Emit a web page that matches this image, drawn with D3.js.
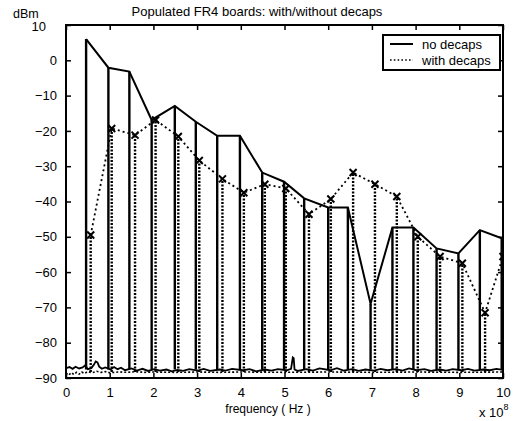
<!DOCTYPE html>
<html><head><meta charset="utf-8">
<script src="https://cdn.jsdelivr.net/npm/d3@7"></script>
<style>body{margin:0;background:#fff}text{font-family:"Liberation Sans",Arial,sans-serif;fill:#000}</style>
</head><body>
<svg id="c" width="513" height="421"></svg>
<script>
// ---- data ----
const xTicks = [0,1,2,3,4,5,6,7,8,9,10];
const yTicks = [-90,-80,-70,-60,-50,-40,-30,-20,-10,0,10];
// no decaps: harmonic peaks (x in 1e8 Hz, dBm)
const noDecapsX = [0.46,0.97,1.45,1.96,2.49,2.97,3.46,3.98,4.49,4.99,5.45,6.0,6.45,6.97,7.47,7.95,8.48,8.98,9.47,9.97];
const noDecapsY = [6,-2.1,-3.2,-16.9,-12.9,-17.4,-21.4,-21.4,-31.8,-34.4,-39.1,-41.7,-41.7,-69,-47.4,-47.4,-53.3,-54.7,-48.1,-50.4];
// with decaps: harmonic peaks
const decapsX = [0.565,1.046,1.58,2.05,2.57,3.05,3.58,4.07,4.55,5.03,5.56,6.06,6.57,7.07,7.57,8.05,8.56,9.07,9.59,10.0];
const decapsY = [-49.5,-19.3,-21.2,-16.9,-21.6,-28.4,-33.6,-37.5,-35.1,-36.3,-43.6,-39.3,-31.8,-35.1,-38.6,-50.0,-55.6,-57.5,-71.5,-55.6];
// noise floors
const noDecapsFloorX = [0,0.08,0.15,0.22,0.3,0.38,0.44,0.5,0.58,0.64,0.68,0.72,0.76,0.82,0.9,1.02,1.1,1.18,1.26,1.35,1.5,1.62,1.75,1.88,2.02,2.15,2.3,2.42,2.55,2.68,2.82,3.02,3.15,3.3,3.52,3.65,3.8,4.05,4.2,4.35,4.55,4.7,4.85,5.05,5.15,5.19,5.21,5.23,5.3,5.5,5.65,5.8,6.05,6.2,6.35,6.55,6.7,6.85,7.05,7.2,7.35,7.55,7.7,7.85,8.02,8.2,8.35,8.55,8.7,8.85,9.05,9.2,9.35,9.55,9.7,9.85,10];
const noDecapsFloorY = [-87.2,-86.9,-87.4,-86.8,-87.3,-87.0,-86.4,-87.5,-87.2,-86.2,-85.3,-85.6,-86.8,-87.4,-87.0,-87.6,-86.9,-87.5,-87.1,-87.8,-87.3,-87.9,-87.4,-88.0,-87.5,-87.9,-87.6,-88.1,-87.7,-88.0,-87.5,-87.9,-87.4,-88.0,-87.6,-87.9,-87.4,-87.8,-87.5,-88.1,-87.6,-87.9,-87.5,-87.8,-87.4,-84.2,-84.4,-87.6,-88.0,-87.5,-87.9,-87.3,-87.8,-87.2,-87.9,-87.5,-88.0,-87.6,-87.9,-87.4,-87.8,-87.5,-87.9,-87.3,-87.8,-87.5,-88.0,-87.6,-87.9,-87.5,-87.8,-87.4,-87.9,-87.6,-87.8,-87.4,-87.7];
const decapsFloorX = [0,0.06,0.12,0.18,0.24,0.3,0.36,0.42,0.5,0.6,0.7,0.8,0.9,1.0,1.2,1.4,1.6,1.8,2.0,2.5,3.0,3.5,4.0,5.0,6.0,7.0,8.0,9.0,10];
const decapsFloorY = [-88.6,-89.2,-88.5,-89.0,-88.4,-88.9,-88.3,-88.7,-88.2,-88.5,-88.1,-88.4,-88.2,-88.5,-88.3,-88.4,-88.2,-88.4,-88.3,-88.4,-88.3,-88.4,-88.3,-88.4,-88.3,-88.4,-88.3,-88.4,-88.3];
const seriesNames = ["no decaps","with decaps"];

// ---- drawing ----
const svg = d3.select("#c");
const L=66,R=503,T=25,B=378;
const x = d3.scaleLinear().domain([0,10]).range([L,R]);
const y = d3.scaleLinear().domain([-90,10]).range([B,T]);
const g = svg.append("g");
svg.append("clipPath").attr("id","clp").append("rect").attr("x",L).attr("y",T).attr("width",R-L).attr("height",B-T);
const plot = g.append("g").attr("clip-path","url(#clp)");
const line = d3.line().x(d=>x(d[0])).y(d=>y(d[1]));

// floors
plot.append("path").datum(d3.zip(decapsFloorX,decapsFloorY)).attr("d",line)
  .attr("fill","none").attr("stroke","#000").attr("stroke-width",1.6).attr("stroke-dasharray","2,2");
plot.append("path").datum(d3.zip(noDecapsFloorX,noDecapsFloorY)).attr("d",line)
  .attr("fill","none").attr("stroke","#000").attr("stroke-width",1.8);

// dotted spikes
plot.selectAll(".ds").data(d3.zip(decapsX,decapsY)).join("line")
  .attr("x1",d=>x(d[0])).attr("x2",d=>x(d[0])).attr("y1",y(-88.3)).attr("y2",d=>y(d[1]))
  .attr("stroke","#000").attr("stroke-width",2.4).attr("stroke-dasharray","2,1.5");
// dotted envelope
plot.append("path").datum(d3.zip(decapsX,decapsY)).attr("d",line)
  .attr("fill","none").attr("stroke","#000").attr("stroke-width",1.8).attr("stroke-dasharray","2,3");
// markers
const ms=3.5;
plot.selectAll(".mk").data(d3.zip(decapsX,decapsY)).join("path")
  .attr("d",d=>{const cx=x(d[0]),cy=y(d[1]);return `M${cx-ms},${cy-ms}L${cx+ms},${cy+ms}M${cx-ms},${cy+ms}L${cx+ms},${cy-ms}`;})
  .attr("stroke","#000").attr("stroke-width",2).attr("fill","none");

// solid spikes
plot.selectAll(".ss").data(d3.zip(noDecapsX,noDecapsY)).join("line")
  .attr("x1",d=>x(d[0])).attr("x2",d=>x(d[0])).attr("y1",y(-87.6)).attr("y2",d=>y(d[1]))
  .attr("stroke","#000").attr("stroke-width",2.4);
// solid envelope
plot.append("path").datum(d3.zip(noDecapsX,noDecapsY)).attr("d",line)
  .attr("fill","none").attr("stroke","#000").attr("stroke-width",2).attr("stroke-linejoin","miter");

// axes
function styleAxis(sel){sel.select(".domain").remove();sel.selectAll(".tick line").attr("stroke","#000").attr("stroke-width",1.5);sel.selectAll("text").attr("font-size",13).attr("font-family","Liberation Sans, Arial, sans-serif");}
const ax = g.append("g").attr("transform",`translate(0,${B})`).call(d3.axisBottom(x).tickValues(xTicks).tickSize(-5).tickPadding(10).tickFormat(d3.format("d")));
styleAxis(ax);
const axT = g.append("g").attr("transform",`translate(0,${T})`).call(d3.axisTop(x).tickValues(xTicks).tickSize(-5).tickFormat(""));
styleAxis(axT);
const ay = g.append("g").attr("transform",`translate(${L},0)`).call(d3.axisLeft(y).tickValues(yTicks).tickSize(-5).tickPadding(9).tickFormat(d3.format("d")));
styleAxis(ay);
ay.selectAll(".tick text").filter(d=>d===10).attr("dx",-11).attr("dy","0.45em");
const ayR = g.append("g").attr("transform",`translate(${R},0)`).call(d3.axisRight(y).tickValues(yTicks).tickSize(-5).tickFormat(""));
styleAxis(ayR);
g.append("rect").attr("x",L).attr("y",T).attr("width",R-L).attr("height",B-T).attr("fill","none").attr("stroke","#000").attr("stroke-width",2);

// labels
svg.append("text").attr("x",257).attr("y",16).attr("text-anchor","middle").attr("font-size",13).text("Populated FR4 boards: with/without decaps");
svg.append("text").attr("x",268).attr("y",413).attr("text-anchor","middle").attr("font-size",12).text("frequency ( Hz )");
svg.append("text").attr("x",13).attr("y",18).attr("font-size",12.5).text("dBm");
const e = svg.append("text").attr("x",479).attr("y",417).attr("font-size",13);
e.append("tspan").text("x 10");
e.append("tspan").attr("dy",-7).attr("font-size",9).text("8");

// legend
const lg = svg.append("g");
lg.append("rect").attr("x",383).attr("y",35).attr("width",117).attr("height",35).attr("fill","#fff").attr("stroke","#000").attr("stroke-width",2);
lg.append("line").attr("x1",390).attr("x2",413).attr("y1",44).attr("y2",44).attr("stroke","#000").attr("stroke-width",2);
lg.append("line").attr("x1",390).attr("x2",413).attr("y1",60).attr("y2",60).attr("stroke","#000").attr("stroke-width",1.6).attr("stroke-dasharray","1.6,2.2");
lg.append("text").attr("x",422).attr("y",48.5).attr("font-size",13).text(seriesNames[0]);
lg.append("text").attr("x",422).attr("y",64.5).attr("font-size",13).text(seriesNames[1]);
</script>
</body></html>
